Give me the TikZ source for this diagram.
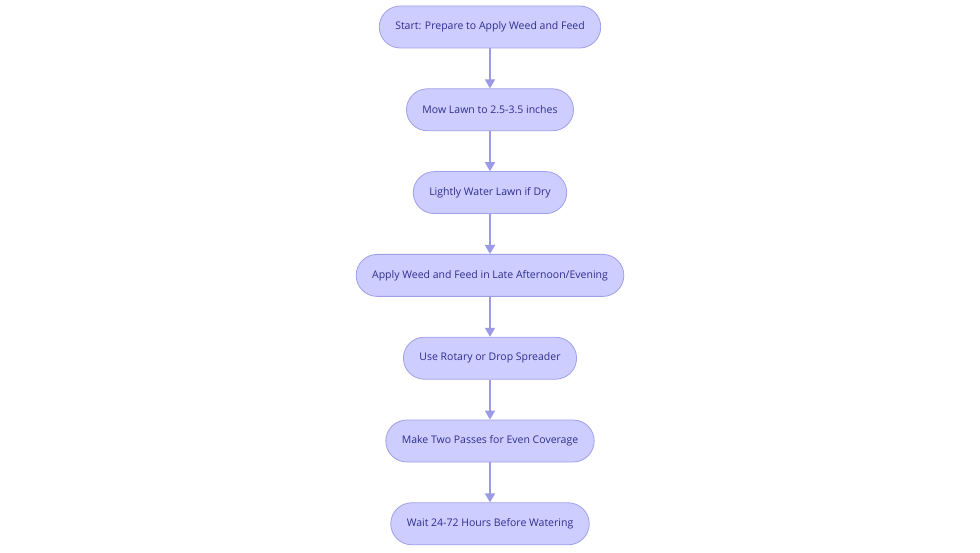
\documentclass[tikz,border=0pt]{standalone}
\usepackage{fontspec}
\setmainfont{Open Sans}
\usetikzlibrary{positioning, arrows.meta}
\definecolor{stepfill}{HTML}{CDCDFF}
\definecolor{stepline}{HTML}{A0A0EA}
\definecolor{steptext}{HTML}{2E2E8F}
\definecolor{flowline}{HTML}{9A9AE6}

\begin{document}
\begin{tikzpicture}[node distance=40pt, every node/.style={font=\fontsize{10.5}{12}\selectfont},
    stepbox/.style={draw=stepline, fill=stepfill, text=steptext, rectangle, rounded corners=21pt, minimum height=42pt, inner xsep=16pt, line width=0.8pt},
    flow/.style={-{Triangle[length=9pt, width=10pt]}, draw=flowline, line width=1.6pt}]
        \useasboundingbox (0,0) rectangle (980pt,-553pt);

        \node[stepbox] (start) at (490pt,-27pt) {Start: Prepare to Apply Weed and Feed};
        \node[stepbox, below=of start] (mow) {Mow Lawn to 2.5-3.5 inches};
        \node[stepbox, below=of mow] (water) {Lightly Water Lawn if Dry};
        \node[stepbox, below=of water] (apply) {Apply Weed and Feed in Late Afternoon/Evening};
        \node[stepbox, below=of apply] (spreader) {Use Rotary or Drop Spreader};
        \node[stepbox, below=of spreader] (passes) {Make Two Passes for Even Coverage};
        \node[stepbox, below=of passes] (wait) {Wait 24-72 Hours Before Watering};

        \draw[flow] (start) -- (mow);
        \draw[flow] (mow) -- (water);
        \draw[flow] (water) -- (apply);
        \draw[flow] (apply) -- (spreader);
        \draw[flow] (spreader) -- (passes);
        \draw[flow] (passes) -- (wait);
    \end{tikzpicture}
\end{document}
